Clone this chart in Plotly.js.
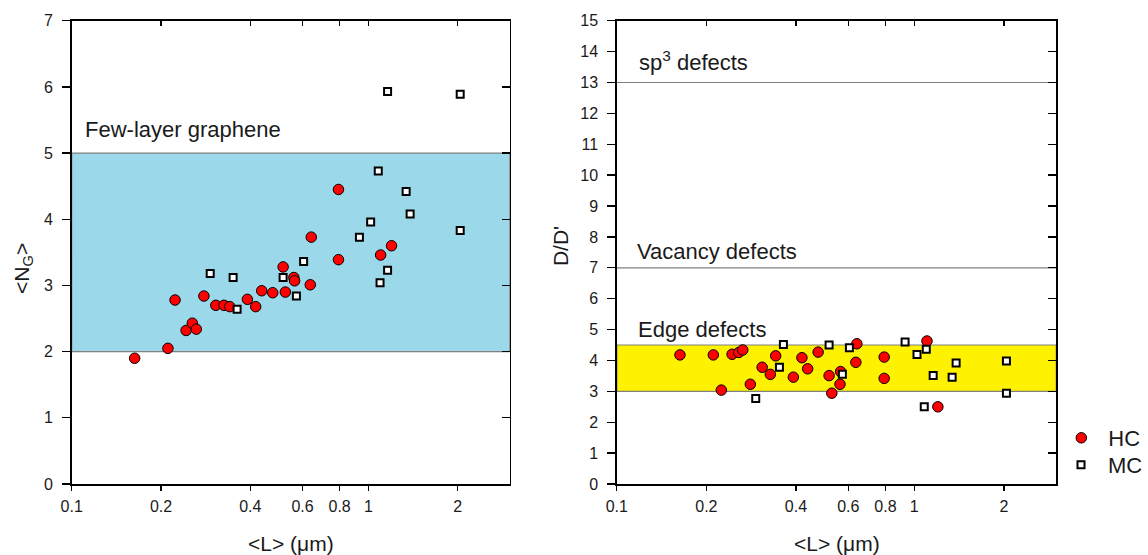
<!DOCTYPE html>
<html>
<head>
<meta charset="utf-8">
<script src="https://cdn.plot.ly/plotly-3.0.1.min.js"></script>
<style>html,body{margin:0;padding:0;background:#fff;}#chart{width:1148px;height:555px;}</style>
</head>
<body>
<div id="chart"></div>
<script>
// ---- data ----
const xTickVals = [0.1, 0.2, 0.4, 0.6, 0.8, 1, 2];
const xTickText = ["0.1", "0.2", "0.4", "0.6", "0.8", "1", "2"];

// Left panel: <N_G> vs <L>
const hcLeftL = [0.163,0.211,0.223,0.243,0.255,0.263,0.279,0.306,0.326,0.341,0.391,0.417,0.437,0.476,0.516,0.525,0.561,0.564,0.637,0.642,0.793,0.793,1.10,1.197];
const hcLeftN = [1.90,2.05,2.78,2.32,2.43,2.34,2.84,2.70,2.70,2.68,2.79,2.68,2.92,2.89,3.28,2.90,3.12,3.07,3.01,3.73,4.45,3.39,3.46,3.60];
const mcLeftL = [0.293,0.350,0.361,0.516,0.572,0.605,0.933,1.018,1.08,1.095,1.161,1.161,1.341,1.383,2.04,2.04];
const mcLeftN = [3.18,3.12,2.64,3.12,2.84,3.36,3.73,3.96,4.73,3.04,5.93,3.23,4.42,4.08,5.89,3.83];

// Right panel: D/D' vs <L>
const hcRightL = [0.163,0.211,0.2245,0.244,0.257,0.265,0.281,0.308,0.328,0.342,0.392,0.419,0.438,0.475,0.517,0.528,0.5625,0.565,0.636,0.641,0.792,0.792,1.103,1.20];
const hcRightD = [4.18,4.18,3.04,4.20,4.26,4.34,3.23,3.78,3.55,4.15,3.46,4.09,3.73,4.27,3.51,2.94,3.23,3.64,3.94,4.54,4.11,3.42,4.63,2.50];
const mcRightL = [0.293,0.352,0.363,0.517,0.573,0.605,0.931,1.021,1.08,1.097,1.157,1.34,1.382,2.04,2.04];
const mcRightD = [2.77,3.78,4.52,4.50,3.55,4.41,4.60,4.19,2.50,4.36,3.51,3.46,3.92,3.98,2.94];

// Reference bands / lines
const fewLayerBand = [2, 5];
const edgeBand = [3, 4.5];
const vacancyLevel = 7;
const sp3Level = 13;

// ---- styling ----
const FONT = "Liberation Sans, Arial, sans-serif";
const TXT = "#1a1a1a";
const hcMarker = {symbol: "circle", size: 10.5, color: "#ff0000", line: {color: "#000", width: 1}};
const mcMarker = {symbol: "square", size: 7, color: "#ffffff", line: {color: "#000", width: 2}};

const traces = [
  {x: hcLeftL, y: hcLeftN, xaxis: "x", yaxis: "y", mode: "markers", name: "HC", marker: hcMarker, showlegend: false},
  {x: mcLeftL, y: mcLeftN, xaxis: "x", yaxis: "y", mode: "markers", name: "MC", marker: mcMarker, showlegend: false},
  {x: hcRightL, y: hcRightD, xaxis: "x2", yaxis: "y2", mode: "markers", name: "HC", marker: hcMarker, legend: "legend"},
  {x: mcRightL, y: mcRightD, xaxis: "x2", yaxis: "y2", mode: "markers", name: "MC", marker: mcMarker, legend: "legend2"},
  // helper traces so the mirrored (inside-tick) axes are drawn
  {x: [null], y: [null], xaxis: "x3", yaxis: "y3", mode: "markers", showlegend: false, hoverinfo: "skip"},
  {x: [null], y: [null], xaxis: "x4", yaxis: "y4", mode: "markers", showlegend: false, hoverinfo: "skip"}
];

const xRange = [-1, Math.log10(3)];
const leftDom = [0.0627, 0.4457];
const rightDom = [0.5392, 0.9233];
const yDom = [0.1279, 0.9627];

function xAxisMain(dom, anchor) {
  return {type: "log", range: xRange, domain: dom, anchor: anchor,
    tickmode: "array", tickvals: xTickVals, ticktext: xTickText,
    ticks: "outside", ticklen: 5, tickwidth: 1.3, tickcolor: "#000",
    showline: true, linecolor: "#000", linewidth: 1.5, showgrid: false, zeroline: false,
    tickfont: {family: FONT, size: 16, color: TXT}, ticklabelstandoff: 2, fixedrange: true};
}
function xAxisTop(over, anchor) {
  return {type: "log", range: xRange, overlaying: over, anchor: anchor, side: "top",
    tickmode: "array", tickvals: xTickVals, ticks: "inside", ticklen: 5, tickwidth: 1.3, tickcolor: "#000",
    showticklabels: false, showline: true, linecolor: "#000", linewidth: 1.5, showgrid: false, zeroline: false};
}
function yAxisMain(rng, anchor) {
  return {range: rng, domain: yDom, anchor: anchor, tickmode: "linear", tick0: 0, dtick: 1,
    ticks: "outside", ticklen: 8, tickwidth: 1.3, tickcolor: "#000",
    showline: true, linecolor: "#000", linewidth: 1.5, showgrid: false, zeroline: false,
    tickfont: {family: FONT, size: 16, color: TXT}, ticklabelstandoff: 6, fixedrange: true};
}
function yAxisRight(rng, over, anchor) {
  return {range: rng, overlaying: over, anchor: anchor, side: "right", tickmode: "linear", tick0: 0, dtick: 1,
    ticks: "inside", ticklen: 8, tickwidth: 1.3, tickcolor: "#000",
    showticklabels: false, showline: true, linecolor: "#000", linewidth: 1.5, showgrid: false, zeroline: false};
}

const grey = "#808080";
const shapes = [
  {type: "rect", xref: "x domain", yref: "y", x0: 0, x1: 1, y0: fewLayerBand[0], y1: fewLayerBand[1],
   fillcolor: "#9bd9ea", line: {color: grey, width: 1.2}, layer: "below"},
  {type: "rect", xref: "x2 domain", yref: "y2", x0: 0, x1: 1, y0: edgeBand[0], y1: edgeBand[1],
   fillcolor: "#fff200", line: {color: grey, width: 1.2}, layer: "below"},
  {type: "line", xref: "x2 domain", yref: "y2", x0: 0, x1: 1, y0: vacancyLevel, y1: vacancyLevel,
   line: {color: grey, width: 1.2}, layer: "below"},
  {type: "line", xref: "x2 domain", yref: "y2", x0: 0, x1: 1, y0: sp3Level, y1: sp3Level,
   line: {color: grey, width: 1.2}, layer: "below"}
];

const annFont = {family: FONT, size: 22, color: TXT};
const titleFont = {family: FONT, size: 21, color: TXT};
const annotations = [
  {text: "Few-layer graphene", xref: "x domain", yref: "y", x: 0.025, y: 5.36, xanchor: "left", yanchor: "middle", showarrow: false, font: annFont},
  {text: "sp<sup>3</sup> defects", xref: "x2 domain", yref: "y2", x: 0.047, y: 13.68, xanchor: "left", yanchor: "middle", showarrow: false, font: annFont},
  {text: "Vacancy defects", xref: "x2 domain", yref: "y2", x: 0.042, y: 7.52, xanchor: "left", yanchor: "middle", showarrow: false, font: annFont},
  {text: "Edge defects", xref: "x2 domain", yref: "y2", x: 0.043, y: 4.99, xanchor: "left", yanchor: "middle", showarrow: false, font: annFont},
  // axis titles
  {text: "&lt;L&gt; (&#956;m)", xref: "paper", yref: "paper", x: 291.8/1148, y: 1 - 543/555, xanchor: "center", yanchor: "middle", showarrow: false, font: titleFont},
  {text: "&lt;L&gt; (&#956;m)", xref: "paper", yref: "paper", x: 839.5/1148, y: 1 - 543/555, xanchor: "center", yanchor: "middle", showarrow: false, font: titleFont},
  {text: "&lt;N<sub>G</sub>&gt;", xref: "paper", yref: "paper", x: 23/1148, y: 1 - 268/555, xanchor: "center", yanchor: "middle", textangle: -90, showarrow: false, font: titleFont},
  {text: "D/D'", xref: "paper", yref: "paper", x: 562/1148, y: 1 - 246/555, xanchor: "center", yanchor: "middle", textangle: -90, showarrow: false, font: titleFont}
];

const legendCommon = {xanchor: "left", yanchor: "middle",
  font: {family: FONT, size: 22, color: TXT}, bgcolor: "rgba(0,0,0,0)", borderwidth: 0, itemwidth: 44};

const layout = {
  width: 1148, height: 555,
  margin: {l: 0, r: 0, t: 0, b: 0},
  paper_bgcolor: "#ffffff", plot_bgcolor: "rgba(0,0,0,0)",
  font: {family: FONT, color: TXT},
  showlegend: true,
  legend: Object.assign({x: 1058/1148, y: 1 - 438/555}, legendCommon),
  legend2: Object.assign({x: 1058/1148, y: 1 - 465/555}, legendCommon),
  xaxis: xAxisMain(leftDom, "y"),
  yaxis: yAxisMain([0, 7], "x"),
  xaxis2: xAxisMain(rightDom, "y2"),
  yaxis2: yAxisMain([0, 15], "x2"),
  xaxis3: xAxisTop("x", "y"),
  yaxis3: yAxisRight([0, 7], "y", "x"),
  xaxis4: xAxisTop("x2", "y2"),
  yaxis4: yAxisRight([0, 15], "y2", "x2"),
  shapes: shapes,
  annotations: annotations
};

Plotly.newPlot("chart", traces, layout, {staticPlot: true, displayModeBar: false});
</script>
</body>
</html>
